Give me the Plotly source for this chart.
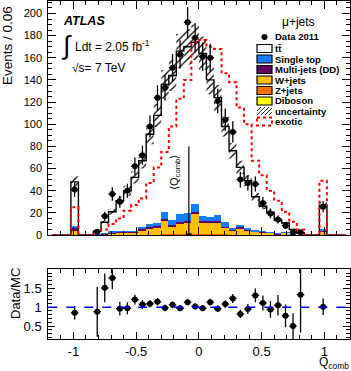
import numpy as np
import plotly.graph_objects as go

# Q_comb binning: 40 bins of width 0.06 between -1.2 and 1.2
bin_width = 0.06
bin_centres = np.round(np.arange(-1.17, 1.2, bin_width), 2)

# MC stack, events per bin (40 bins)
ttbar = [0, 0, 0, 39, 0, 0, 2.5, 9.1, 17, 26.5, 35.5, 48, 59.5, 80.5, 96.5, 115, 130, 147, 150, 145.5,
         146.5, 123, 105.5, 86, 69, 51.5, 42, 29.5, 21.5, 16.9, 11.5, 7.8, 4, 1.2, 0, 0, 21.5, 0, 0, 0]
single_top = [0, 0, 0, 2, 0, 0, 0.3, 0.6, 1, 1, 1, 0.8, 2, 2.5, 3, 6, 4.5, 6.5, 6.5, 7,
              4, 3.5, 5.5, 4, 1.5, 2, 1.5, 1, 1, 0.8, 0.5, 0.4, 0.2, 0.2, 0, 0, 1, 0, 0, 0]
multijet = [0, 0, 0, 3, 0, 0, 0.2, 0.6, 1, 0.5, 0.5, 0.4, 1, 2, 1.5, 2, 2, 2, 2, 2,
            2, 2, 1, 1, 1, 1, 1, 0.8, 0.5, 0.4, 0.3, 0.2, 0.2, 0.1, 0, 0, 1, 0, 0, 0]
wjets = [0, 0, 0, 3.4, 0, 0, 0.4, 0.9, 1.6, 2.5, 2.5, 2.3, 3.8, 5.1, 6.1, 11.9, 6.5, 9.4, 10.3, 18.3,
         10.3, 10.4, 10.9, 6, 3.8, 5.8, 3.9, 2.7, 2.6, 2, 1, 2.2, 0.5, 0.2, 0, 0, 3, 0, 0, 0]
zjets = [0, 0, 0, 0.5, 0, 0, 0.1, 0.2, 0.3, 0.4, 0.4, 0.4, 0.6, 0.7, 0.7, 0.9, 0.8, 0.9, 1, 1,
         1, 0.9, 0.9, 0.8, 0.6, 0.6, 0.5, 0.4, 0.3, 0.3, 0.2, 0.2, 0.1, 0.1, 0, 0, 0.4, 0, 0, 0]
diboson = [0, 0, 0, 0.1, 0, 0, 0, 0.05, 0.1, 0.1, 0.1, 0.1, 0.1, 0.15, 0.15, 0.2, 0.2, 0.2, 0.2, 0.2,
           0.2, 0.2, 0.2, 0.2, 0.15, 0.15, 0.1, 0.1, 0.1, 0.1, 0.05, 0.05, 0, 0, 0, 0, 0.1, 0, 0, 0]
mc_unc = [0, 0, 0, 5, 0, 0, 0.5, 1.5, 2.5, 3.5, 4.5, 5.5, 7, 9, 10.5, 13, 14, 15.5, 16, 16,
          15, 13, 11.5, 9, 7, 6, 5, 3.5, 2.8, 2.2, 1.5, 1.2, 0.6, 0.3, 0, 0, 3, 0, 0, 0]
exotic = [0, 0, 0, 25, 0, 0, 2, 5, 10, 15, 22, 27, 33, 47, 61, 75, 98, 123, 140, 174,
          176, 170, 168, 146, 138, 115, 100, 67, 54, 40, 31, 21, 12, 5, 0, 0, 49, 0, 0, 0]

# data 2011 (non-empty bins only)
data_x = [-0.99, -0.81, -0.75, -0.69, -0.63, -0.57, -0.51, -0.45, -0.39, -0.33, -0.27, -0.21, -0.15, -0.09, -0.03,
          0.03, 0.09, 0.15, 0.21, 0.27, 0.33, 0.39, 0.45, 0.51, 0.57, 0.63, 0.69, 0.75, 0.81, 0.99]
data_y = [41, 3, 17, 37, 30, 40, 62, 72, 98, 124, 133, 151, 163, 192, 178,
          161, 160, 121, 104, 93, 50, 47, 46, 29, 19.5, 14, 8.4, 2.4, 2.4, 25.5]
data_err = [6.4, 1.7, 4.1, 6.1, 5.5, 6.3, 7.9, 8.5, 9.9, 11.1, 11.5, 12.3, 12.8, 13.9, 13.3,
            12.7, 12.6, 11, 10.2, 9.6, 7.1, 6.9, 6.8, 5.4, 4.4, 3.7, 2.9, 1.5, 1.5, 5]
ratio = [0.85, 0.88, 1.51, 1.77, 0.96, 0.97, 1.2, 1.07, 1.09, 1.14, 0.98, 1.06, 0.97, 1.13, 1.02,
         0.97, 1.13, 0.96, 1.08, 1.23, 0.82, 0.95, 1.31, 1.11, 0.94, 1.05, 0.77, 0.5, 1.33, 1.01]
ratio_err = [0.18, 0.66, 0.38, 0.3, 0.18, 0.16, 0.13, 0.12, 0.1, 0.1, 0.09, 0.09, 0.08, 0.08, 0.08,
             0.08, 0.09, 0.09, 0.1, 0.12, 0.11, 0.13, 0.18, 0.2, 0.22, 0.27, 0.3, 0.34, 1.0, 0.22]

# mean of Q_comb marker
q_mean = -0.08
q_mean_top = 80

x_ticks = [-1, -0.5, 0, 0.5, 1]
x_ticktext = ['-1', '-0.5', '0', '0.5', '1']
r_ticks = [0.5, 1, 1.5]
r_ticktext = ['0.5', '1', '1.5']

W, H = 351, 371
FONT = 'Liberation Sans, Arial, sans-serif'
c_single = 'rgb(20,125,255)'
c_multi = 'rgb(102,0,102)'
c_w = 'rgb(255,190,0)'
c_z = 'rgb(255,110,0)'
c_db = 'rgb(255,255,0)'


def px(x):
    return x / W


def py(y):
    return 1 - y / H


mc_total = np.array(ttbar) + np.array(single_top) + np.array(multijet) + np.array(wjets) \
    + np.array(zjets) + np.array(diboson)
unc = np.array(mc_unc)

fig = go.Figure()

# stacked backgrounds, bottom first
for name, vals, col in [('Diboson', diboson, c_db), ('Z+jets', zjets, c_z), ('W+jets', wjets, c_w),
                        ('Multi-jets (DD)', multijet, c_multi), ('Single top', single_top, c_single),
                        ('tt', ttbar, 'white')]:
    fig.add_trace(go.Bar(x=bin_centres, y=vals, width=bin_width, marker=dict(color=col, line_width=0),
                         name=name, showlegend=False, xaxis='x', yaxis='y'))

# uncertainty hatch
fig.add_trace(go.Scatter(x=bin_centres, y=mc_total - unc, mode='lines', line=dict(width=0, shape='hvh'),
                         showlegend=False, hoverinfo='skip'))
fig.add_trace(go.Scatter(x=bin_centres, y=mc_total + unc, mode='lines', line=dict(width=0, shape='hvh'),
                         fill='tonexty', fillcolor='rgba(0,0,0,0)',
                         fillpattern=dict(shape='/', fgcolor='black', bgcolor='rgba(0,0,0,0)', size=5, solidity=0.25),
                         showlegend=False, hoverinfo='skip'))

# MC total outline
fig.add_trace(go.Scatter(x=bin_centres, y=mc_total, mode='lines', line=dict(color='black', width=1.4, shape='hvh'),
                         showlegend=False))
# exotic
fig.add_trace(go.Scatter(x=bin_centres, y=exotic, mode='lines',
                         line=dict(color='red', width=2, dash='dot', shape='hvh'), showlegend=False))

# mean line
fig.add_trace(go.Scatter(x=[q_mean, q_mean], y=[0, q_mean_top], mode='lines',
                         line=dict(color='black', width=1.2), showlegend=False))
fig.add_trace(go.Scatter(x=[q_mean], y=[0], mode='markers', marker=dict(symbol='triangle-down', size=6, color='black'),
                         showlegend=False))

# data
fig.add_trace(go.Scatter(x=data_x, y=data_y, mode='markers', marker=dict(color='black', size=6),
                         error_y=dict(type='data', array=data_err, color='black', thickness=1.3, width=0),
                         error_x=dict(type='constant', value=bin_width / 2, color='black', thickness=1.3, width=0),
                         showlegend=False))

# ratio panel
fig.add_trace(go.Scatter(x=data_x, y=ratio, mode='markers', marker=dict(color='black', size=6),
                         error_y=dict(type='data', array=ratio_err, color='black', thickness=1.3, width=0),
                         error_x=dict(type='constant', value=bin_width / 2, color='black', thickness=1.3, width=0),
                         xaxis='x2', yaxis='y2', showlegend=False))

xdom = [px(48.3), px(349.5)]
axis_common = dict(showline=True, linecolor='black', linewidth=1, mirror='ticks', ticks='inside',
                   tickcolor='black', showgrid=False, zeroline=False, automargin=False)

fig.update_layout(
    template='none',
    width=W, height=H,
    margin=dict(l=0, r=0, t=0, b=0, pad=0),
    paper_bgcolor='white', plot_bgcolor='white',
    barmode='stack', bargap=0,
    font=dict(family=FONT, color='black'),
    xaxis=dict(domain=xdom, range=[-1.2, 1.2], anchor='y', showticklabels=False,
               tickmode='array', tickvals=x_ticks, ticklen=8,
               minor=dict(ticks='inside', dtick=0.1, tick0=0, ticklen=4, tickcolor='black'), **axis_common),
    yaxis=dict(domain=[py(235), py(0.5)], range=[0, 211.7], anchor='x', dtick=20, ticklen=8,
               tickfont=dict(size=11), ticklabelstandoff=3,
               minor=dict(ticks='inside', dtick=5, ticklen=4, tickcolor='black'), **axis_common),
    xaxis2=dict(domain=xdom, range=[-1.2, 1.2], anchor='y2', tickmode='array', tickvals=x_ticks,
                ticktext=x_ticktext, ticklen=7, tickfont=dict(size=13), ticklabelstandoff=0,
                minor=dict(ticks='inside', dtick=0.1, tick0=0, ticklen=4, tickcolor='black'), **axis_common),
    yaxis2=dict(domain=[py(339.3), py(269.3)], range=[0.15, 2.0], anchor='x2', tickmode='array',
                tickvals=r_ticks, ticktext=r_ticktext, ticklen=7, tickfont=dict(size=13), ticklabelstandoff=3,
                minor=dict(ticks='inside', dtick=0.1, tick0=0, ticklen=4, tickcolor='black'), **axis_common),
)

shapes = [dict(type='line', xref='x2 domain', yref='y2', x0=0, x1=1, y0=1, y1=1,
               line=dict(color='blue', width=1.5, dash='dash'))]

annotations = []


def text(x, y, s, size, xanchor='left', angle=0, yanchor='middle'):
    annotations.append(dict(x=px(x), y=py(y), xref='paper', yref='paper', text=s, showarrow=False,
                            xanchor=xanchor, yanchor=yanchor, textangle=angle, borderpad=0,
                            font=dict(size=size, family=FONT, color='black')))


text(8, 46, 'Events / 0.06', 13.5, xanchor='center', angle=-90)
text(15, 294, 'Data/MC', 13, xanchor='center', angle=-90)
text(350, 362.5, 'Q<sub>comb</sub>', 12, xanchor='right')
text(62, 21.5, '<b><i>ATLAS</i></b>', 12.5)
text(60, 45, '∫', 26)
text(74, 46, 'Ldt = 2.05 fb<sup>-1</sup>', 12)
text(71, 68, '√s= 7 TeV', 12)
text(175, 173, '⟨Q<sub>comb</sub>⟩', 11, xanchor='center', angle=-90)
text(281, 22, 'μ+jets', 12)

# legend
box_x0, box_x1, txt_x = 257, 272, 274
rows = [37, 48.5, 59, 69.5, 80, 90.5, 101, 111, 121.5]
labels = ['Data 2011', 'tt̄', 'Single top', 'Multi-jets (DD)', 'W+jets', 'Z+jets', 'Diboson',
          'uncertainty', 'exotic']
fills = [None, 'white', c_single, c_multi, c_w, c_z, c_db, None, None]
for r, lab, f in zip(rows, labels, fills):
    text(txt_x, r, '<b>%s</b>' % lab, 9.5)
    if f is not None:
        shapes.append(dict(type='rect', xref='paper', yref='paper', x0=px(box_x0), x1=px(box_x1),
                           y0=py(r - 4), y1=py(r + 4), fillcolor=f, line=dict(color='black', width=1.2)))
# data marker
shapes.append(dict(type='circle', xref='paper', yref='paper', x0=px(261.5), x1=px(267.5),
                   y0=py(rows[0] - 3), y1=py(rows[0] + 3), fillcolor='black', line=dict(color='black', width=0)))
# hatch box
r = rows[7]
for k in range(5):
    xs = box_x0 + k * 4 - 4
    x0, y0, x1, y1 = xs, r + 4, xs + 8, r - 4
    if x0 < box_x0:
        y0 -= box_x0 - x0
        x0 = box_x0
    if x1 > box_x1:
        y1 += x1 - box_x1
        x1 = box_x1
    shapes.append(dict(type='line', xref='paper', yref='paper', x0=px(x0), x1=px(x1), y0=py(y0), y1=py(y1),
                       line=dict(color='black', width=0.8)))
# exotic box
r = rows[8]
shapes.append(dict(type='rect', xref='paper', yref='paper', x0=px(box_x0), x1=px(box_x1),
                   y0=py(r - 4), y1=py(r + 4), line=dict(color='red', width=2, dash='dot')))

fig.update_layout(shapes=shapes, annotations=annotations)
# the browser's default 8px body margin would push the figure off the window
fig.write_html("out.html", config={'displayModeBar': False},
               post_script="document.body.style.margin='0px';")
